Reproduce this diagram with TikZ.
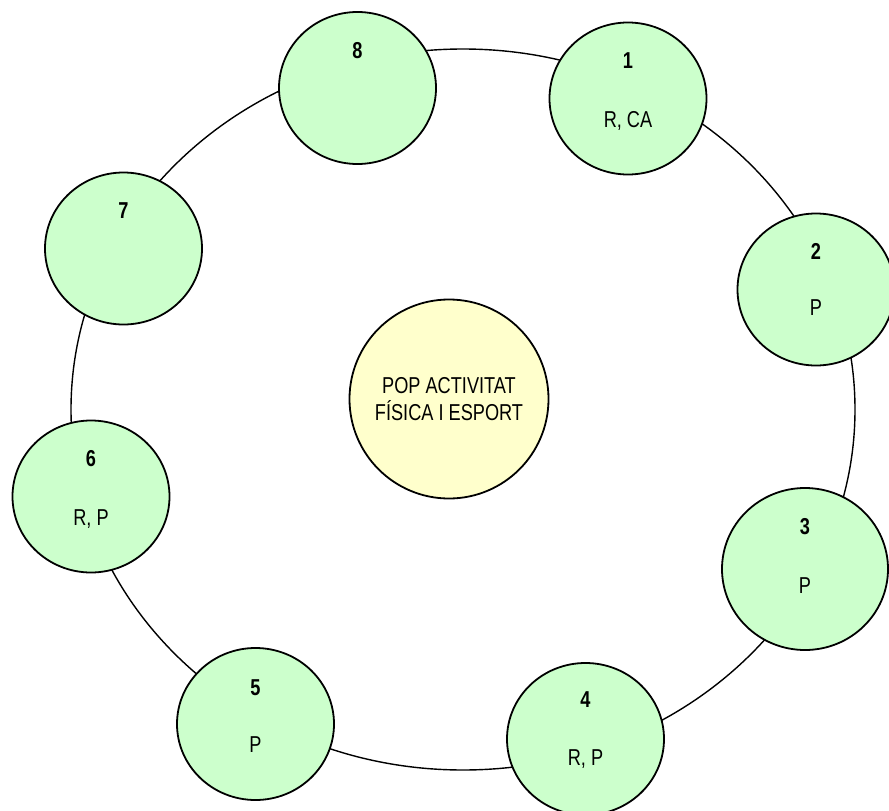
\documentclass[tikz,border=0pt]{standalone}
\usepackage{fontspec}
\setmainfont{Liberation Sans}[FakeStretch=0.79]
\usetikzlibrary{shapes.geometric}
\definecolor{bubblegreen}{RGB}{204,255,204}
\definecolor{hubyellow}{RGB}{255,255,204}
\begin{document}
\begin{tikzpicture}[x=1pt,y=-1pt,
  ringstyle/.style={draw=black, line width=1.4pt, ellipse, inner sep=0pt, minimum width=784pt, minimum height=721pt},
  bubble/.style={draw=black, line width=1.8pt, fill=bubblegreen, ellipse, inner sep=0pt, minimum width=157pt, minimum height=152pt},
  bigbubble/.style={bubble, minimum width=166pt, minimum height=162pt},
  hub/.style={draw=black, line width=1.8pt, fill=hubyellow, circle, inner sep=0pt, minimum size=199pt, align=center, font=\fontsize{23}{26.5}\selectfont},
  numlabel/.style={font=\fontsize{23}{26}\selectfont\bfseries, anchor=base, inner sep=0pt},
  txtlabel/.style={font=\fontsize{23}{26}\selectfont, anchor=base, inner sep=0pt}]
\useasboundingbox (0,0) rectangle (889,811);
\node[ringstyle] (ring) at (463,409.5) {};
\node[hub] (hub) at (449,399) {POP ACTIVITAT\\FÍSICA I ESPORT};
\node[bubble] (c1) at (628,98.5) {};
\node[bubble] (c2) at (816,289.5) {};
\node[bigbubble] (c3) at (805,569) {};
\node[bubble] (c4) at (585.5,739) {};
\node[bubble] (c5) at (255.5,724) {};
\node[bubble] (c6) at (91,496.5) {};
\node[bubble] (c7) at (123.5,248.5) {};
\node[bubble] (c8) at (357.5,88) {};
\node[numlabel] (n1) at ([yshift=30pt]c1.center) {1};
\node[txtlabel] (t1) at ([yshift=-28.5pt]c1.center) {R, CA};
\node[numlabel] (n2) at ([yshift=30pt]c2.center) {2};
\node[txtlabel] (t2) at ([yshift=-26pt]c2.center) {P};
\node[numlabel] (n3) at ([yshift=35pt]c3.center) {3};
\node[txtlabel] (t3) at ([yshift=-24.5pt]c3.center) {P};
\node[numlabel] (n4) at ([yshift=32pt]c4.center) {4};
\node[txtlabel] (t4) at ([yshift=-26.5pt]c4.center) {R, P};
\node[numlabel] (n5) at ([yshift=29pt]c5.center) {5};
\node[txtlabel] (t5) at ([yshift=-28.5pt]c5.center) {P};
\node[numlabel] (n6) at ([yshift=30.5pt]c6.center) {6};
\node[txtlabel] (t6) at ([yshift=-29pt]c6.center) {R, P};
\node[numlabel] (n7) at ([yshift=30.5pt]c7.center) {7};
\node[numlabel] (n8) at ([yshift=30pt]c8.center) {8};
\end{tikzpicture}
\end{document}
